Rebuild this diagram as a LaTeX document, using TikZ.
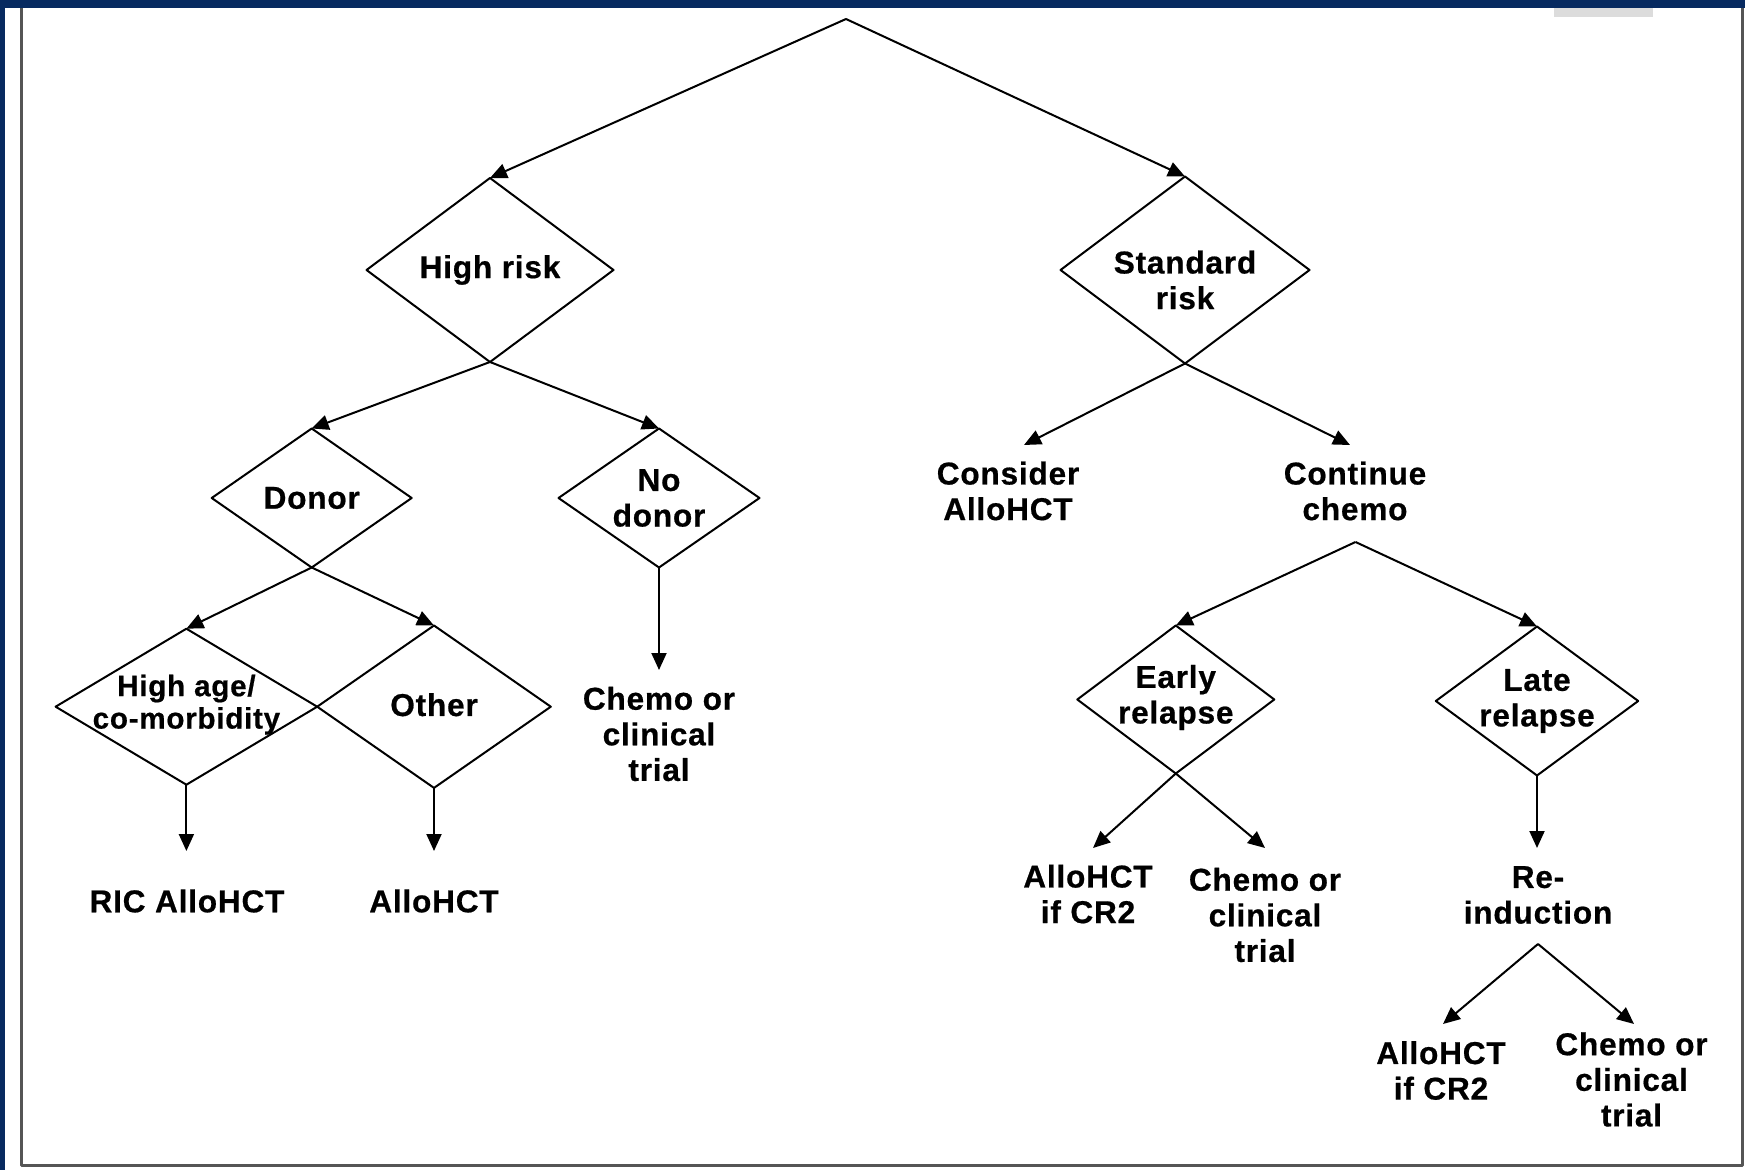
\documentclass[tikz,border=0pt]{standalone}
\usepackage{fontspec}
\setmainfont{Liberation Sans}[LetterSpace=2.5, BoldFeatures={FakeBold=0.6}]
\usetikzlibrary{arrows.meta,shapes.geometric}

\definecolor{navy}{HTML}{072A60}
\definecolor{framegray}{HTML}{555555}
\definecolor{tabgray}{HTML}{DCDCDC}

\begin{document}
\begin{tikzpicture}[x=0.5pt, y=-0.5pt,
    dia/.style={draw, diamond, line width=1pt, inner sep=0pt, outer sep=0pt},
    txt/.style={align=center, font=\bfseries\fontsize{15.8}{17.8}\selectfont, inner sep=0pt},
    arr/.style={-{Triangle[length=8.5pt,width=7.5pt]}, line width=1pt},
    line join=round]

      \useasboundingbox (0,0) rectangle (1745,1170);

      % frame
      \fill[navy] (0,0) rectangle (1745,8);
      \fill[navy] (0,0) rectangle (5,1170);
      \fill[tabgray] (1554,8) rectangle (1653,17);
      \draw[framegray, line width=1.5pt] (21,8) -- (21,1165) -- (1742,1165) -- (1742,8);

      % decision diamonds
      \node[dia, minimum width=123.5pt, minimum height=92pt, label={[txt]center:High risk}] (hirisk) at (490,270) {};
      \node[dia, minimum width=124.5pt, minimum height=93.5pt, label={[txt, yshift=-5pt]center:{Standard\\risk}}] (stdrisk) at (1185,270) {};
      \node[dia, minimum width=100pt, minimum height=69.5pt, label={[txt]center:Donor}] (donor) at (311.7,498) {};
      \node[dia, minimum width=100.5pt, minimum height=69.5pt, label={[txt]center:{No\\donor}}] (nodonor) at (659,498) {};
      \node[dia, minimum width=130.8pt, minimum height=78pt, label={[txt, font=\bfseries\fontsize{14.8}{16.2}\selectfont, yshift=1pt]center:{High age/\\co-morbidity}}] (hiage) at (186.4,706.7) {};
      \node[dia, minimum width=116.8pt, minimum height=81.2pt, label={[txt, yshift=1pt]center:Other}] (other) at (434,706.7) {};
      \node[dia, minimum width=98.5pt, minimum height=74pt, label={[txt, yshift=1pt]center:{Early\\relapse}}] (early) at (1175.8,699.5) {};
      \node[dia, minimum width=101.2pt, minimum height=74.5pt, label={[txt]center:{Late\\relapse}}] (late) at (1537,701) {};

      % outcome texts
      \node[txt] (rictxt) at (187,901) {RIC AlloHCT};
      \node[txt] (allotxt) at (434,901) {AlloHCT};
      \node[txt] (nodtxt) at (659,734) {Chemo or\\clinical\\trial};
      \node[txt] (consider) at (1008,491) {Consider\\AlloHCT};
      \node[txt] (contchemo) at (1355,491) {Continue\\chemo};
      \node[txt] (earlyallo) at (1088,894) {AlloHCT\\if CR2};
      \node[txt] (earlychemo) at (1265,915) {Chemo or\\clinical\\trial};
      \node[txt] (reind) at (1538,895) {Re-\\induction};
      \node[txt] (lateallo) at (1441,1070.5) {AlloHCT\\if CR2};
      \node[txt] (latechemo) at (1631.5,1079.5) {Chemo or\\clinical\\trial};

      % branch points and arrow ends
      \coordinate (root) at (846,19);
      \coordinate (contfork) at (1355.5,542);
      \coordinate (reindfork) at (1538,944);

      \coordinate (t1) at (186.4,851);
      \coordinate (t2) at (434,851);
      \coordinate (t3) at (659,670);
      \coordinate (t4) at (1024,445);
      \coordinate (t5) at (1350,445);
      \coordinate (t6) at (1093,848);
      \coordinate (t7) at (1265,848);
      \coordinate (t8) at (1537,848);
      \coordinate (t9) at (1443,1024);
      \coordinate (t10) at (1634,1024);

      % connectors
      \draw[arr] (root) -- (hirisk.north);
      \draw[arr] (root) -- (stdrisk.north);

      \draw[arr] (hirisk.south) -- (donor.north);
      \draw[arr] (hirisk.south) -- (nodonor.north);
      \draw[arr] (donor.south) -- (hiage.north);
      \draw[arr] (donor.south) -- (other.north);
      \draw[arr] (hiage.south) -- (t1);
      \draw[arr] (other.south) -- (t2);
      \draw[arr] (nodonor.south) -- (t3);

      \draw[arr] (stdrisk.south) -- (t4);
      \draw[arr] (stdrisk.south) -- (t5);
      \draw[arr] (contfork) -- (early.north);
      \draw[arr] (contfork) -- (late.north);
      \draw[arr] (early.south) -- (t6);
      \draw[arr] (early.south) -- (t7);
      \draw[arr] (late.south) -- (t8);
      \draw[arr] (reindfork) -- (t9);
      \draw[arr] (reindfork) -- (t10);
    \end{tikzpicture}
\end{document}
